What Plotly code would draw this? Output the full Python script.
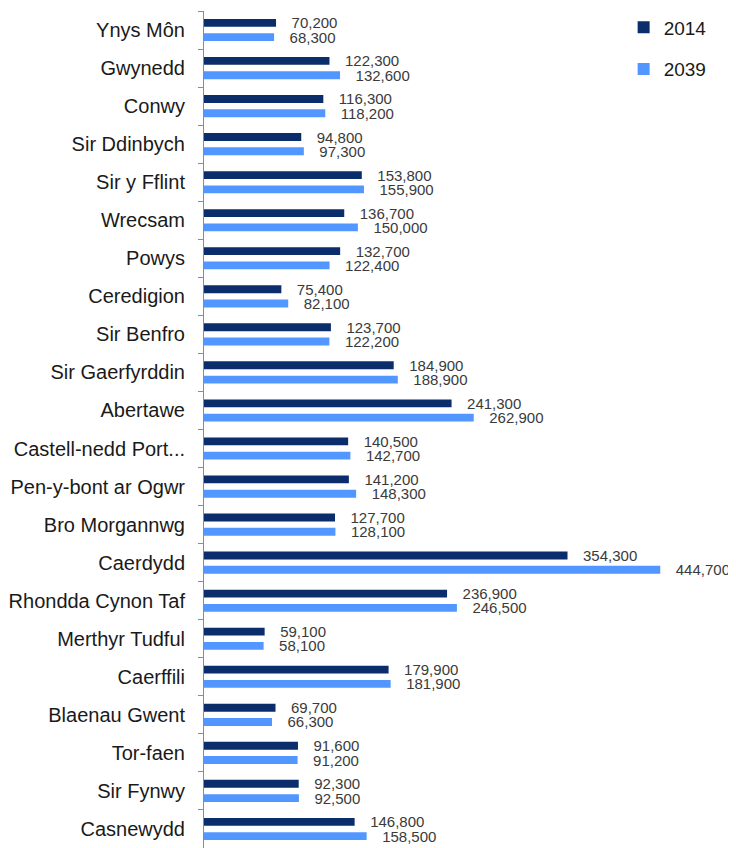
import plotly.graph_objects as go

categories = ["Ynys Môn", "Gwynedd", "Conwy", "Sir Ddinbych", "Sir y Fflint", "Wrecsam",
              "Powys", "Ceredigion", "Sir Benfro", "Sir Gaerfyrddin", "Abertawe",
              "Castell-nedd Port...", "Pen-y-bont ar Ogwr", "Bro Morgannwg", "Caerdydd",
              "Rhondda Cynon Taf", "Merthyr Tudful", "Caerffili", "Blaenau Gwent",
              "Tor-faen", "Sir Fynwy", "Casnewydd"]
pop_2014 = [70200, 122300, 116300, 94800, 153800, 136700, 132700, 75400, 123700, 184900,
            241300, 140500, 141200, 127700, 354300, 236900, 59100, 179900, 69700, 91600,
            92300, 146800]
pop_2039 = [68300, 132600, 118200, 97300, 155900, 150000, 122400, 82100, 122200, 188900,
            262900, 142700, 148300, 128100, 444700, 246500, 58100, 181900, 66300, 91200,
            92500, 158500]
series_names = ["2014", "2039"]

FONT = "Liberation Sans, Arial, sans-serif"
pad = "\u00a0\u00a0\u00a0"

fig = go.Figure()
for name, vals, col in [(series_names[0], pop_2014, "#0B2D6B"),
                        (series_names[1], pop_2039, "#5297FF")]:
    fig.add_trace(go.Bar(
        y=categories, x=vals, name=name, orientation="h",
        marker=dict(color=col, line=dict(width=0)),
        texttemplate=pad + "%{x:,.0f}", textposition="outside",
        textfont=dict(family=FONT, size=15, color="#3a3a3a"),
        constraintext="none", cliponaxis=False, legendgroup=name,
    ))

fig.update_layout(
    width=728, height=840,
    margin=dict(l=196, r=19, t=0, b=0),
    paper_bgcolor="white", plot_bgcolor="white",
    barmode="group", bargap=0.25, bargroupgap=0.45,
    font=dict(family=FONT, size=20, color="#1a1a1a"),
    showlegend=True,
    legend=dict(x=0.818, y=1.003, xanchor="left", yanchor="top",
                font=dict(family=FONT, size=19, color="#1a1a1a"),
                tracegroupgap=14, traceorder="grouped", bgcolor="rgba(0,0,0,0)"),
    xaxis=dict(range=[0, 500000], visible=False, showgrid=False, zeroline=False),
    yaxis=dict(autorange="reversed", showline=True, linecolor="#8c8c8c", linewidth=1,
               ticks="outside", tickson="boundaries", ticklen=5, tickcolor="#8c8c8c",
               tickfont=dict(family=FONT, size=20, color="#1a1a1a"),
               ticklabelstandoff=14, showgrid=False),
)

fig.write_html("out.html")
